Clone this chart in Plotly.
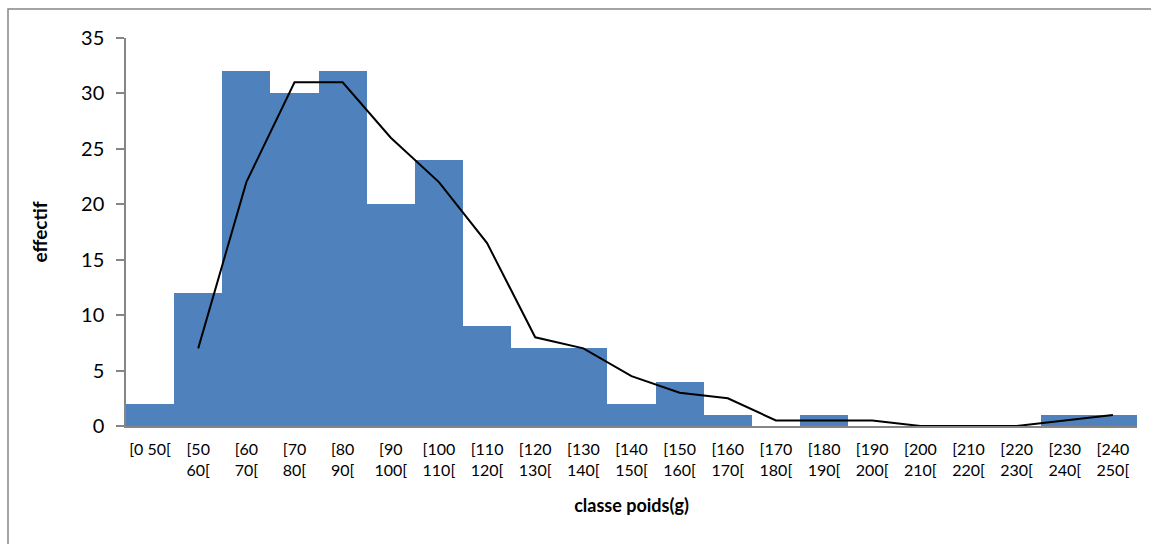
import plotly.graph_objects as go

categories = ["[0 50[", "[50 60[", "[60 70[", "[70 80[", "[80 90[", "[90 100[",
              "[100 110[", "[110 120[", "[120 130[", "[130 140[", "[140 150[",
              "[150 160[", "[160 170[", "[170 180[", "[180 190[", "[190 200[",
              "[200 210[", "[210 220[", "[220 230[", "[230 240[", "[240 250["]
tick_labels = ["[0 50[", "[50<br>60[", "[60<br>70[", "[70<br>80[", "[80<br>90[",
               "[90<br>100[", "[100<br>110[", "[110<br>120[", "[120<br>130[",
               "[130<br>140[", "[140<br>150[", "[150<br>160[", "[160<br>170[",
               "[170<br>180[", "[180<br>190[", "[190<br>200[", "[200<br>210[",
               "[210<br>220[", "[220<br>230[", "[230<br>240[", "[240<br>250["]
effectif = [2, 12, 32, 30, 32, 20, 24, 9, 7, 7, 2, 4, 1, 0, 1, 0, 0, 0, 0, 1, 1]
line_categories = categories[1:]
line_values = [7, 22, 31, 31, 26, 22, 16.5, 8, 7, 4.5, 3, 2.5, 0.5, 0.5, 0.5,
               0, 0, 0, 0.5, 1]

W, H = 1151, 544
ML, MR, MT, MB = 126, 14, 38, 118

fig = go.Figure()
fig.add_trace(go.Bar(
    x=categories, y=effectif,
    marker=dict(color="#4F81BD", line=dict(width=0)),
    showlegend=False,
))
fig.add_trace(go.Scatter(
    x=line_categories, y=line_values, mode="lines",
    line=dict(color="black", width=2),
    showlegend=False,
))

font_family = "Lato, Carlito, Calibri, sans-serif"
fig.update_layout(
    width=W, height=H,
    margin=dict(l=ML, r=MR, t=MT, b=MB),
    paper_bgcolor="white", plot_bgcolor="white",
    bargap=0,
    font=dict(family=font_family, color="black"),
    xaxis=dict(
        type="category",
        tickmode="array", tickvals=categories, ticktext=tick_labels,
        tickfont=dict(size=16, family=font_family, color="black"),
        showline=True, linecolor="#868686", linewidth=1.5,
        ticks="", showgrid=False, zeroline=False,
        ticklabelstandoff=8,
        title=dict(text="<b>classe poids(g)</b>",
                   font=dict(size=18, family=font_family, color="black"),
                   standoff=22),
        range=[-0.5, len(categories) - 0.5],
    ),
    yaxis=dict(
        range=[0, 35], tickmode="array", tickvals=[0, 5, 10, 15, 20, 25, 30, 35],
        tickfont=dict(size=20, family=font_family, color="black"),
        showline=True, linecolor="#868686", linewidth=1.5,
        ticks="outside", ticklen=8, tickcolor="#868686", tickwidth=1.5,
        ticklabelstandoff=8,
        showgrid=False, zeroline=False,
        title=dict(text="<b>effectif</b>",
                   font=dict(size=19, family=font_family, color="black"),
                   standoff=28),
    ),
    shapes=[dict(
        type="rect", xref="paper", yref="paper",
        x0=(8 - ML) / (W - ML - MR), x1=(W + 10 - ML) / (W - ML - MR),
        y0=-(H + 10 - (H - MB)) / (H - MT - MB), y1=((H - MB) - 9) / (H - MT - MB),
        line=dict(color="#868686", width=1.5), fillcolor="rgba(0,0,0,0)",
        layer="below",
    )],
)

fig.write_html("out.html")
